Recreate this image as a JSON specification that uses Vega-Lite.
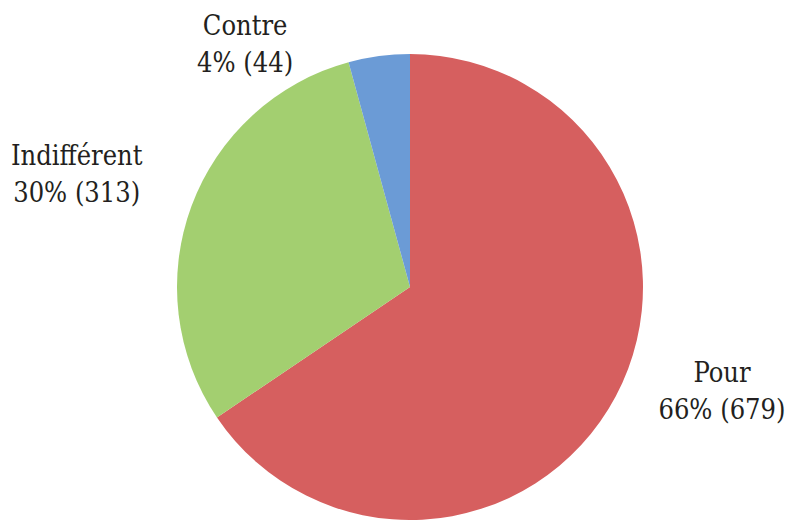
{
  "$schema": "https://vega.github.io/schema/vega-lite/v6.json",
  "width": 790,
  "height": 466,
  "autosize": {"type": "none"},
  "padding": {"left": 15, "top": 54, "right": 0, "bottom": 0},
  "background": "white",
  "config": {"view": {"stroke": null}},
  "data": {
    "values": [
      {"categorie": "Pour", "effectif": 679, "label": "Pour\n66% (679)", "ordre": 1},
      {"categorie": "Indifférent", "effectif": 313, "label": "Indifférent\n30% (313)", "ordre": 2},
      {"categorie": "Contre", "effectif": 44, "label": "Contre\n4% (44)", "ordre": 3}
    ]
  },
  "encoding": {
    "theta": {"field": "effectif", "type": "quantitative", "stack": true},
    "order": {"field": "ordre", "type": "quantitative"}
  },
  "layer": [
    {
      "mark": {"type": "arc", "radius": 233},
      "encoding": {
        "color": {
          "field": "categorie",
          "type": "nominal",
          "scale": {"domain": ["Pour", "Indifférent", "Contre"], "range": ["#d65f5f", "#a3cf70", "#6b9bd6"]},
          "legend": null
        }
      }
    },
    {
      "mark": {"type": "text", "radius": 300, "dx": 47, "dy": -54, "lineBreak": "\n", "lineHeight": 37, "font": "DejaVu Serif Condensed, DejaVu Serif", "fontSize": 27, "color": "#231f20", "align": "center", "baseline": "middle"},
      "encoding": {"text": {"condition": {"test": "datum.categorie == 'Pour'", "field": "label"}, "value": ""}}
    },
    {
      "mark": {"type": "text", "radius": 300, "dx": -52, "dy": -26, "lineBreak": "\n", "lineHeight": 37, "font": "DejaVu Serif Condensed, DejaVu Serif", "fontSize": 27, "color": "#231f20", "align": "center", "baseline": "middle"},
      "encoding": {"text": {"condition": {"test": "datum.categorie == 'Indifférent'", "field": "label"}, "value": ""}}
    },
    {
      "mark": {"type": "text", "radius": 300, "dx": -125, "dy": 37, "lineBreak": "\n", "lineHeight": 37, "font": "DejaVu Serif Condensed, DejaVu Serif", "fontSize": 27, "color": "#231f20", "align": "center", "baseline": "middle"},
      "encoding": {"text": {"condition": {"test": "datum.categorie == 'Contre'", "field": "label"}, "value": ""}}
    }
  ]
}
